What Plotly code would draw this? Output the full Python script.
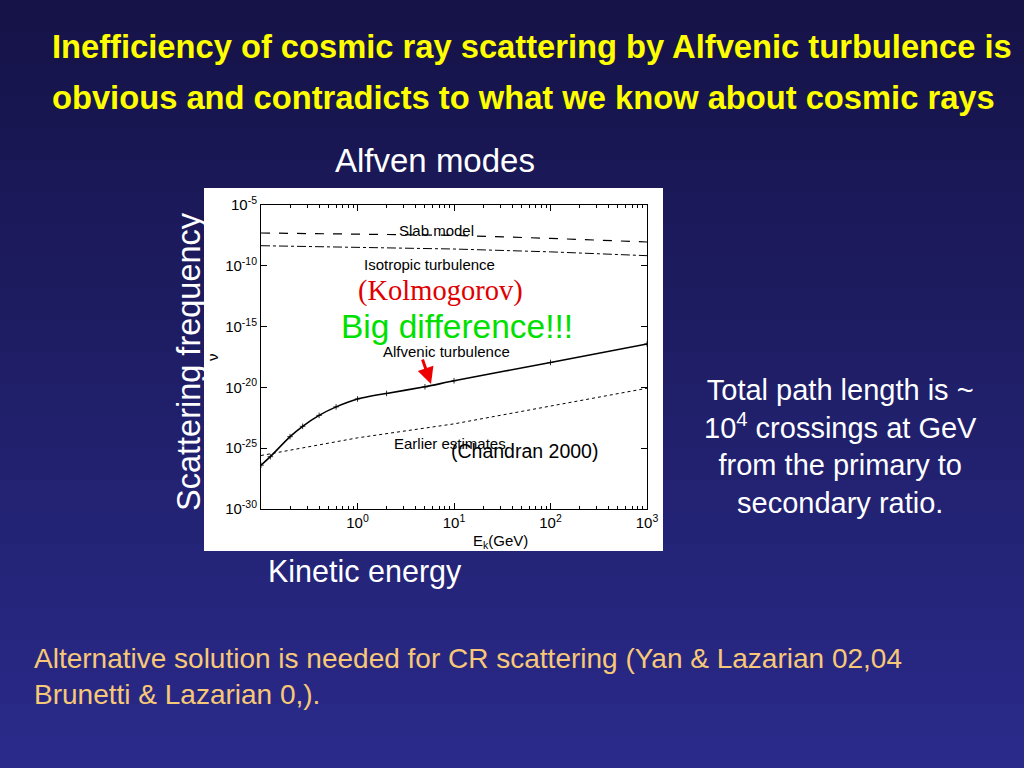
import plotly.graph_objects as go

# ---------------- data ----------------
energy_alfvenic = [0.1, 0.125, 0.2, 0.27, 0.4, 0.6, 1, 2, 5, 10, 100, 1000]
nu_alfvenic = [3.98e-27, 2.0e-26, 8.9e-25, 6.3e-24, 5.0e-23, 2.5e-22,
               1.12e-21, 3.2e-21, 1.12e-20, 3.5e-20, 1.12e-18, 3.7e-17]

energy_slab = [0.1, 1, 10, 100, 1000]
nu_slab = [5.0e-8, 4.2e-8, 3.2e-8, 1.8e-8, 9.1e-9]

energy_iso = [0.1, 1, 10, 100, 1000]
nu_iso = [4.5e-9, 3.5e-9, 2.4e-9, 1.4e-9, 6.8e-10]

energy_early = [0.1, 1, 10, 100, 1000]
nu_early = [2.5e-26, 7.1e-25, 1.0e-23, 2.8e-22, 8.5e-21]

x_tick_vals = [1, 10, 100, 1000]
x_tick_text = ["10<sup>0</sup>", "10<sup>1</sup>", "10<sup>2</sup>", "10<sup>3</sup>"]
x_minor_vals = [m * d for d in (0.1, 1, 10, 100) for m in range(2, 10)]
y_tick_vals = [1e-30, 1e-25, 1e-20, 1e-15, 1e-10, 1e-5]
y_tick_text = ["10<sup>-30</sup>", "10<sup>-25</sup>", "10<sup>-20</sup>",
               "10<sup>-15</sup>", "10<sup>-10</sup>", "10<sup>-5</sup>"]

W, H = 1024, 768
def px(x):
    return x / W
def py(y):
    return 1 - y / H

fig = go.Figure()

fig.add_trace(go.Scatter(x=energy_slab, y=nu_slab, mode="lines",
                         line=dict(color="black", width=1.2, dash="dash"),
                         showlegend=False))
fig.add_trace(go.Scatter(x=energy_iso, y=nu_iso, mode="lines",
                         line=dict(color="black", width=1.0, dash="dashdot"),
                         showlegend=False))
fig.add_trace(go.Scatter(x=energy_early, y=nu_early, mode="lines",
                         line=dict(color="black", width=1.0, dash="dot"),
                         showlegend=False))
fig.add_trace(go.Scatter(x=energy_alfvenic, y=nu_alfvenic, mode="lines+markers",
                         line=dict(color="black", width=1.6, shape="spline", smoothing=0.6),
                         marker=dict(symbol="cross-thin", size=4,
                                     line=dict(color="black", width=0.8)),
                         showlegend=False))

# background gradient bands (slide background)
shapes = []
top = (22, 19, 72)
bot = (42, 42, 138)
n = 24
for i in range(n):
    t = i / (n - 1)
    c = tuple(int(top[k] + (bot[k] - top[k]) * t) for k in range(3))
    shapes.append(dict(type="rect", xref="paper", yref="paper",
                       x0=-0.05, x1=1.05, y0=1 - (i + 1) / n - (0.05 if i == n - 1 else 0),
                       y1=1 - i / n + (0.05 if i == 0 else 0),
                       fillcolor="rgb(%d,%d,%d)" % c, line=dict(width=0),
                       layer="below"))
# white figure panel
shapes.append(dict(type="rect", xref="paper", yref="paper",
                   x0=px(204), x1=px(663), y0=py(551), y1=py(188),
                   fillcolor="white", line=dict(width=0), layer="below"))

annotations = []
def txt(x, y, text, size, color, family="Liberation Sans, Arial", angle=0,
        xanchor="center", align="center"):
    annotations.append(dict(xref="paper", yref="paper", x=px(x), y=py(y),
                            text=text, showarrow=False, textangle=angle,
                            xanchor=xanchor, yanchor="middle", align=align,
                            font=dict(size=size, color=color, family=family)))

title_font = "Liberation Sans Narrow, Arial Narrow, Liberation Sans"
txt(50, 47, "<b>Inefficiency of cosmic ray scattering by Alfvenic turbulence is</b>",
    32.7, "#ffff00", family=title_font, xanchor="left", align="left")
txt(50, 97, "<b>obvious and contradicts to what we know about cosmic rays</b>",
    32.7, "#ffff00", family=title_font, xanchor="left", align="left")

txt(435, 160, "Alfven modes", 33, "white")
txt(189, 362, "Scattering frequency", 32.5, "white", angle=-90)
txt(365, 571, "Kinetic energy", 30.5, "white")
txt(840, 446, "Total path length is ~<br>10<sup>4</sup> crossings at GeV<br>from the primary to<br>secondary ratio.",
    29, "white")
txt(32, 676, "Alternative solution is needed for CR scattering (Yan &amp; Lazarian 02,04<br>Brunetti &amp; Lazarian 0,).",
    28, "#f7c878", family=title_font, xanchor="left", align="left")

# labels inside the plot
txt(436, 230, "Slab model", 15, "black")
txt(429, 264, "Isotropic turbulence", 15, "black")
txt(440, 291, "(Kolmogorov)", 28.5, "#e00000", family="Liberation Serif, Times New Roman")
txt(457, 326, "Big difference!!!", 33.5, "#00e000")
txt(446, 351, "Alfvenic turbulence", 15, "black")
txt(450, 443, "Earlier estimates", 15, "black")
txt(524, 451, "(Chandran 2000)", 19.5, "black")
txt(212, 357, "ν", 15, "black", angle=-90)
txt(500, 541, "E<sub>k</sub>(GeV)", 15, "black")

# red arrow
annotations.append(dict(xref="paper", yref="paper",
                        x=px(431), y=py(384), ax=-9, ay=-26,
                        text="", showarrow=True,
                        arrowhead=2, arrowsize=1.1, arrowwidth=3,
                        arrowcolor="#ee0000"))

fig.update_layout(
    width=W, height=H, autosize=False,
    margin=dict(l=0, r=0, t=0, b=0, pad=0, autoexpand=False),
    paper_bgcolor="#1c1a5c",
    plot_bgcolor="white",
    showlegend=False,
    shapes=shapes,
    annotations=annotations,
    xaxis=dict(type="log", range=[-1, 3], domain=[px(261), px(647)],
               automargin=False,
               tickvals=x_tick_vals, ticktext=x_tick_text,
               ticks="inside", ticklen=6, tickcolor="black",
               minor=dict(tickvals=x_minor_vals, ticks="inside", ticklen=3,
                          tickcolor="black", showgrid=False),
               showgrid=False, zeroline=False, showline=True, linecolor="black",
               linewidth=1, mirror="ticks",
               tickfont=dict(size=15, color="black", family="Liberation Sans, Arial")),
    yaxis=dict(type="log", range=[-30, -5], domain=[py(509), py(205)],
               automargin=False,
               tickvals=y_tick_vals, ticktext=y_tick_text,
               ticks="inside", ticklen=6, tickcolor="black",
               showgrid=False, zeroline=False, showline=True, linecolor="black",
               linewidth=1, mirror="ticks",
               tickfont=dict(size=15, color="black", family="Liberation Sans, Arial")),
)

fig.write_html("out.html",
               config={"displayModeBar": False, "responsive": False},
               post_script="document.body.style.margin='0';document.body.style.overflow='hidden';")
